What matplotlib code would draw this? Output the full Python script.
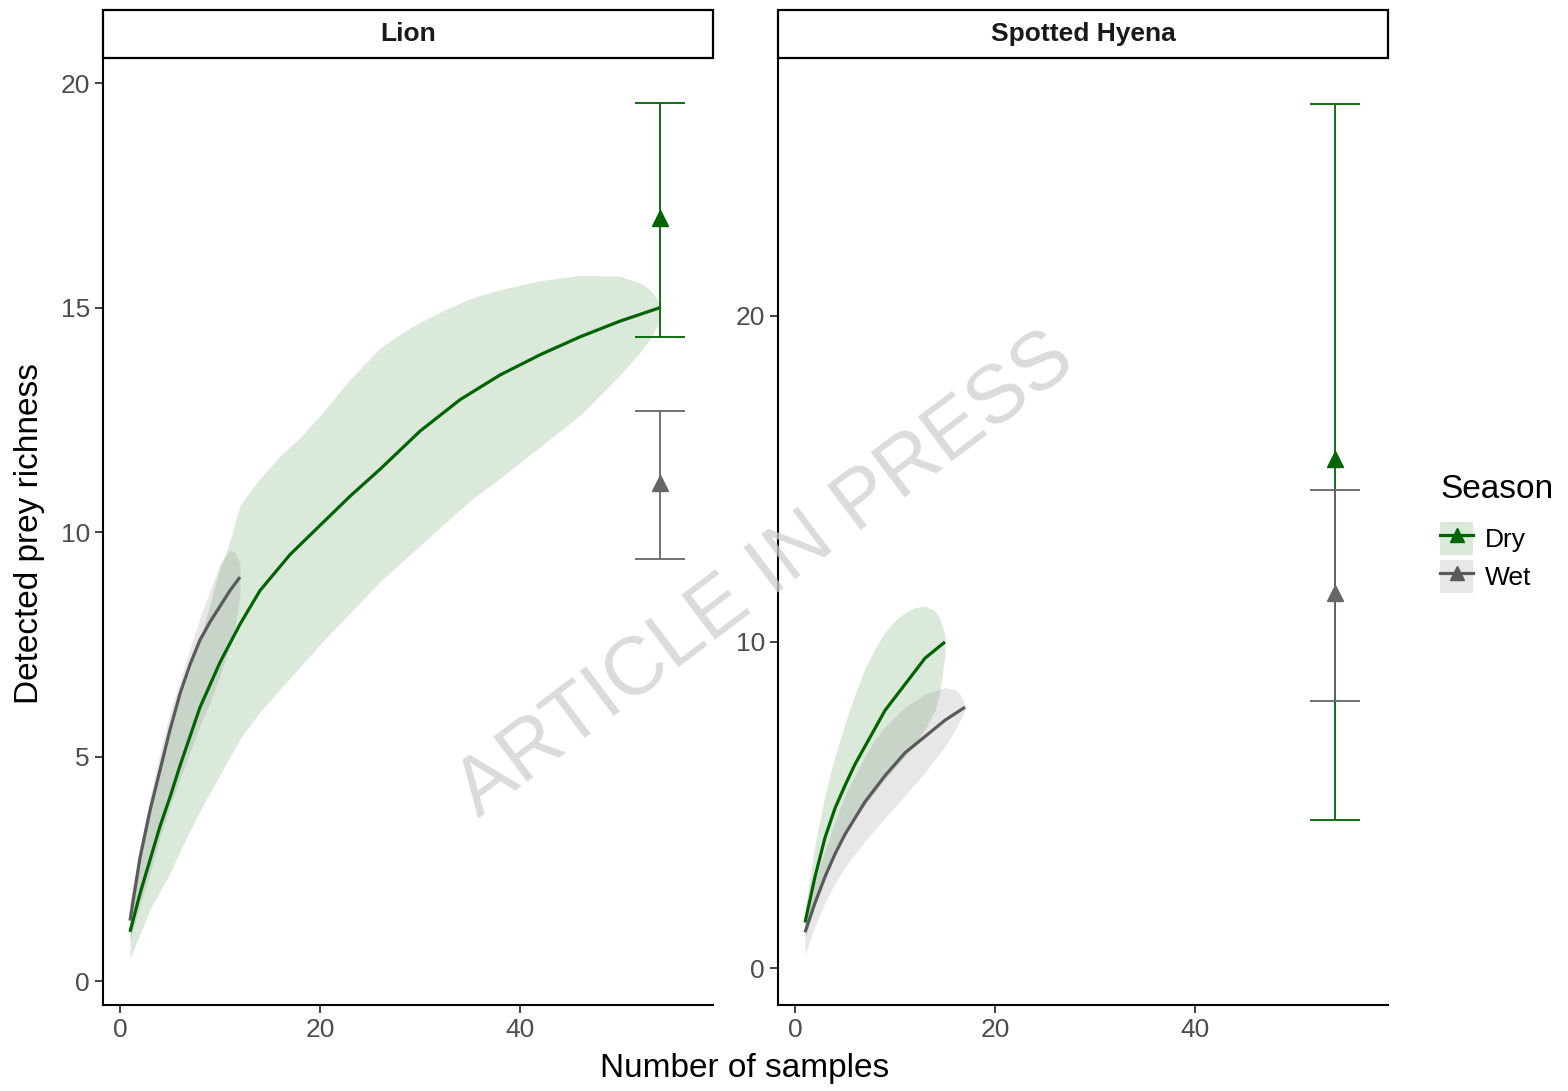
import matplotlib
matplotlib.use('Agg')
import matplotlib.pyplot as plt
from matplotlib.patches import Rectangle, Patch
from matplotlib.lines import Line2D
matplotlib.rcParams['font.family'] = ['Liberation Sans', 'DejaVu Sans']

DRY = '#006400'
WET = '#5a5a5a'
WET_BAR = '#666666'
TICK_COL = '#4d4d4d'

# ---- Lion ----
lion_dry_x = [1, 2, 3, 4, 5, 6, 8, 10, 12, 14, 17, 20, 23, 26, 30, 34, 38, 42, 46, 50, 54]
lion_dry_y = [1.1, 1.95, 2.7, 3.45, 4.1, 4.8, 6.1, 7.1, 7.95, 8.7, 9.5, 10.15, 10.8,
              11.4, 12.25, 12.95, 13.5, 13.95, 14.35, 14.7, 15.0]
lion_dry_rx = [1, 2, 3, 4, 5, 6, 8, 10, 11, 12, 14, 16, 18, 20, 23, 26, 29, 32, 35,
               38, 42, 46, 50, 52, 53, 54]
lion_dry_lo = [0.5, 1.05, 1.6, 2.0, 2.4, 2.9, 3.8, 4.6, 5.0, 5.4, 6.0, 6.5, 7.0, 7.5,
               8.2, 8.9, 9.5, 10.1, 10.7, 11.2, 11.9, 12.6, 13.5, 14.0, 14.3, 14.7]
lion_dry_hi = [1.7, 2.9, 4.0, 4.9, 5.6, 6.3, 7.6, 9.2, 9.8, 10.6, 11.2, 11.7, 12.1,
               12.6, 13.4, 14.1, 14.55, 14.9, 15.2, 15.4, 15.6, 15.72, 15.7, 15.55,
               15.4, 15.1]

lion_wet_x = [1, 2, 3, 4, 5, 6, 7, 8, 9, 10, 11, 12]
lion_wet_y = [1.35, 2.75, 3.8, 4.7, 5.6, 6.4, 7.05, 7.6, 8.0, 8.35, 8.7, 9.0]
lion_wet_rx = [1, 2, 3, 4, 5, 6, 7, 8, 9, 10, 11, 11.5, 12]
lion_wet_lo = [0.9, 1.7, 2.4, 3.2, 3.9, 4.5, 5.1, 5.7, 6.2, 6.8, 7.5, 7.9, 8.6]
lion_wet_hi = [1.8, 3.0, 4.1, 5.1, 6.0, 6.7, 7.4, 8.1, 8.7, 9.3, 9.6, 9.55, 9.3]

# extrapolated estimates at x = 54
lion_ext_x = 54
lion_ext_dry = [17.0, 14.35, 19.55]   # est, lower, upper
lion_ext_wet = [11.1, 9.4, 12.7]

# ---- Spotted Hyena ----
hy_dry_x = [1, 2, 3, 4, 5, 6, 7, 8, 9, 10, 11, 12, 13, 14, 15]
hy_dry_y = [1.4, 2.8, 4.0, 4.9, 5.6, 6.25, 6.8, 7.35, 7.9, 8.3, 8.7, 9.1, 9.5, 9.75, 10.0]
hy_dry_rx = [1, 2, 3, 4, 5, 6, 7, 8, 9, 10, 11, 12, 13, 14, 14.5, 15]
hy_dry_lo = [0.9, 2.0, 2.9, 3.6, 4.2, 4.6, 5.0, 5.4, 5.8, 6.15, 6.5, 6.9, 7.3, 7.9,
             8.5, 9.6]
hy_dry_hi = [1.8, 3.8, 5.3, 6.5, 7.5, 8.4, 9.2, 9.8, 10.3, 10.65, 10.9, 11.05, 11.1,
             10.95, 10.7, 10.2]

hy_wet_x = [1, 2, 3, 4, 5, 6, 7, 8, 9, 10, 11, 12, 13, 14, 15, 16, 17]
hy_wet_y = [1.1, 2.0, 2.8, 3.5, 4.1, 4.6, 5.1, 5.5, 5.9, 6.25, 6.6, 6.85, 7.1, 7.35,
            7.6, 7.8, 8.0]
hy_wet_rx = [1, 2, 3, 4, 5, 6, 7, 8, 9, 10, 11, 12, 13, 14, 15, 16, 16.5, 17]
hy_wet_lo = [0.4, 1.3, 2.0, 2.6, 3.1, 3.5, 3.9, 4.25, 4.6, 4.95, 5.3, 5.65, 6.0, 6.4,
             6.8, 7.3, 7.6, 7.9]
hy_wet_hi = [1.6, 2.7, 3.6, 4.5, 5.3, 5.9, 6.5, 7.0, 7.4, 7.7, 8.0, 8.2, 8.4, 8.5,
             8.6, 8.55, 8.4, 8.1]

hy_ext_x = 54
hy_ext_dry = [15.6, 4.55, 26.5]
hy_ext_wet = [11.5, 8.2, 14.65]

seasons = ['Dry', 'Wet']

fig = plt.figure(figsize=(15.68, 10.91), dpi=100)
fig.patch.set_facecolor('white')

ax1 = fig.add_axes([103/1568, 86/1091, 610/1568, 947/1091])
ax2 = fig.add_axes([778/1568, 86/1091, 610/1568, 947/1091])


def panel(ax, title, dry, wet, ext_x, ext_dry, ext_wet):
    (dx, dy, drx, dlo, dhi) = dry
    (wx, wy, wrx, wlo, whi) = wet
    ax.fill_between(drx, dlo, dhi, color=DRY, alpha=0.14, lw=0)
    ax.fill_between(wrx, wlo, whi, color=WET, alpha=0.14, lw=0)
    ax.plot(dx, dy, color=DRY, lw=2.3, solid_capstyle='butt')
    ax.plot(wx, wy, color=WET, lw=2.3, solid_capstyle='butt')
    for vals, col in ((ext_dry, DRY), (ext_wet, WET_BAR)):
        est, lo, hi = vals
        ax.errorbar([ext_x], [est], yerr=[[est - lo], [hi - est]], color=col,
                    lw=1.3, capsize=18, capthick=1.3, fmt='none')
        ax.plot([ext_x], [est], marker='^', ms=12, color=col, ls='none')
    for s in ('top', 'right'):
        ax.spines[s].set_visible(False)
    for s in ('left', 'bottom'):
        ax.spines[s].set_linewidth(1.5)
        ax.spines[s].set_color('black')
    ax.tick_params(axis='both', labelsize=19, labelcolor=TICK_COL, color='#333333',
                   length=6, width=1.3)
    ax.set_xticks([0, 20, 40])
    ax.set_xlim(-1.7, 59.3)
    # strip header
    ax.add_patch(Rectangle((0, 1.0), 1, 48/947, transform=ax.transAxes,
                           facecolor='white', edgecolor='black', lw=1.6,
                           clip_on=False))
    ax.text(0.5, 1.0 + 24/947, title, transform=ax.transAxes, ha='center',
            va='center', fontsize=19, fontweight='bold', color='#1a1a1a')


panel(ax1, 'Lion',
      (lion_dry_x, lion_dry_y, lion_dry_rx, lion_dry_lo, lion_dry_hi),
      (lion_wet_x, lion_wet_y, lion_wet_rx, lion_wet_lo, lion_wet_hi),
      lion_ext_x, lion_ext_dry, lion_ext_wet)
ax1.set_ylim(-0.53, 20.56)
ax1.set_yticks([0, 5, 10, 15, 20])

panel(ax2, 'Spotted Hyena',
      (hy_dry_x, hy_dry_y, hy_dry_rx, hy_dry_lo, hy_dry_hi),
      (hy_wet_x, hy_wet_y, hy_wet_rx, hy_wet_lo, hy_wet_hi),
      hy_ext_x, hy_ext_dry, hy_ext_wet)
ax2.set_ylim(-1.13, 27.9)
ax2.set_yticks([0, 10, 20])

fig.text(30/1568, 1 - 533/1091, 'Detected prey richness', rotation=90,
         ha='center', va='center', fontsize=24, color='black')
fig.text(745/1568, 1 - 1068/1091, 'Number of samples', ha='center',
         va='center', fontsize=24, color='black')

# legend
fig.text(1440/1568, 1 - 490/1091, 'Season', ha='left', va='center',
         fontsize=24, color='black')
handles = [(Patch(facecolor=DRY, alpha=0.14, lw=0),
            Line2D([], [], color=DRY, lw=2.3, marker='^', ms=10)),
           (Patch(facecolor=WET, alpha=0.14, lw=0),
            Line2D([], [], color=WET, lw=2.3, marker='^', ms=10))]
leg = fig.legend(handles, seasons, loc='upper left',
                 bbox_to_anchor=(1440/1568, 1 - 522/1091), frameon=False,
                 fontsize=19, handlelength=1.26, handleheight=1.55,
                 handletextpad=0.45, labelspacing=0.19, borderpad=0,
                 borderaxespad=0)

# watermark
fig.text(766/1568, 1 - 575/1091, 'ARTICLE IN PRESS', rotation=37,
         ha='center', va='center', fontsize=59, color='#cfcfcf', alpha=0.75,
         zorder=10)

plt.savefig('out.png', dpi=100, facecolor='white')
